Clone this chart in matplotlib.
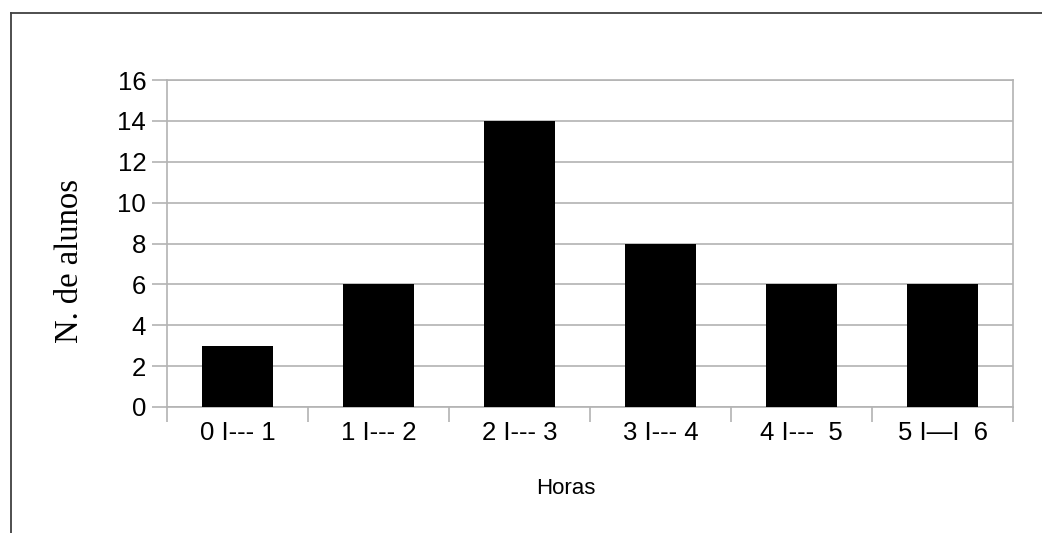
import matplotlib
matplotlib.use("Agg")
import matplotlib.pyplot as plt
from matplotlib.lines import Line2D

# hours studied per day -> number of students
faixas = ["0 I--- 1", "1 I--- 2", "2 I--- 3", "3 I--- 4", "4 I---  5", "5 I\u2014I  6"]
alunos = [3, 6, 14, 8, 6, 6]
y_ticks = [0, 2, 4, 6, 8, 10, 12, 14, 16]

W, H = 1042, 533
fig = plt.figure(figsize=(W / 100, H / 100), dpi=100)
fig.patch.set_facecolor("white")

ax = fig.add_axes([167 / W, 1 - 407 / H, (1013 - 167) / W, (407 - 80) / H])
grid = "#b3b3b3"

x = list(range(len(faixas)))
ax.bar(x, alunos, width=0.5, color="black", zorder=3)
ax.set_xlim(-0.5, len(faixas) - 0.5)
ax.set_ylim(0, 16)

ax.set_yticks(y_ticks)
ax.set_yticklabels([str(v) for v in y_ticks], fontsize=18.5,
                   family="Liberation Sans")
ax.yaxis.grid(True, color=grid, lw=1.2, zorder=0)

# category ticks sit on the boundaries, labels in the middle
ax.set_xticks([i - 0.5 for i in range(len(faixas) + 1)])
ax.set_xticklabels([])
ax.set_xticks(x, minor=True)
ax.set_xticklabels(faixas, minor=True, fontsize=18.5, family="Liberation Sans")
ax.tick_params(axis="x", which="minor", length=0, pad=10)
ax.tick_params(axis="x", which="major", length=11, color=grid, width=1.2)
ax.tick_params(axis="y", length=11, color=grid, width=1.2, pad=4)

for side in ("top", "right", "left", "bottom"):
    ax.spines[side].set_color(grid)
    ax.spines[side].set_linewidth(1.2)

fig.text(70 / W, 1 - 261 / H, "N. de alunos", rotation=90, ha="center",
         va="center", fontsize=23.5, family="Liberation Serif")
fig.text(566 / W, 1 - 489 / H, "Horas", ha="center", va="center",
         fontsize=16, family="Liberation Sans")

# outer frame (top and left edges only are visible)
frame = "#404040"
fig.add_artist(Line2D([10.5 / W, 1.0], [1 - 12.5 / H] * 2, color=frame,
                      lw=1.3, transform=fig.transFigure))
fig.add_artist(Line2D([10.5 / W] * 2, [0.0, 1 - 12.5 / H], color=frame,
                      lw=1.3, transform=fig.transFigure))

fig.savefig("out.png", dpi=100)
